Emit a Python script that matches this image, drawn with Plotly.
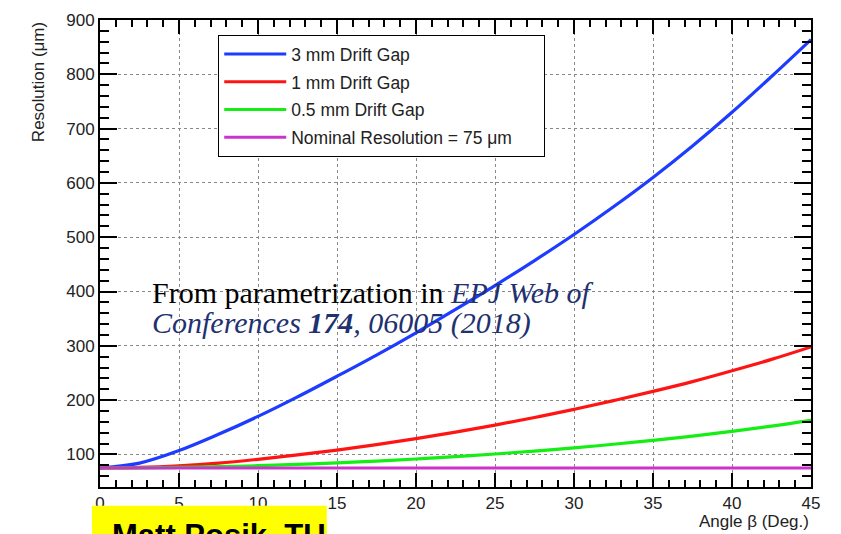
import plotly.graph_objects as go

# ---- data ----
angle_deg = [0, 2.5, 5, 7.5, 10, 12.5, 15, 17.5, 20, 22.5, 25, 27.5, 30,
             32.5, 35, 37.5, 40, 42.5, 45]
res_3mm = [75, 84, 107, 137, 170, 206, 244, 283, 324, 367, 411, 457, 505,
           556, 610, 668, 730, 796, 864]
res_1mm = [75, 76, 79, 84, 91, 99, 108, 118, 129, 141, 154, 168, 183,
           199, 216, 234, 254, 275, 298]
res_05mm = [75, 75.3, 76.1, 77.4, 79.2, 81.5, 84.4, 87.7, 91.6, 95.9, 100.8,
            106.2, 112.1, 118.7, 125.9, 133.8, 142.5, 152.0, 162.7]
nominal_x = [0, 45]
nominal_y = [75, 75]

series_names = ["3 mm Drift Gap", "1 mm Drift Gap", "0.5 mm Drift Gap",
                "Nominal Resolution = 75 \u03bcm\u2003\u2002"]
series_colors = ["#1e3cff", "#ff1414", "#14ee14", "#cc33cc"]

x_ticks = [0, 5, 10, 15, 20, 25, 30, 35, 40, 45]
y_ticks = [100, 200, 300, 400, 500, 600, 700, 800, 900]

fig = go.Figure()
xs = [angle_deg, angle_deg, angle_deg, nominal_x]
ys = [res_3mm, res_1mm, res_05mm, nominal_y]
for i in range(4):
    fig.add_trace(go.Scatter(
        x=xs[i], y=ys[i], mode="lines", name=series_names[i],
        legendgroup="g%d" % i,
        line=dict(color=series_colors[i], width=3.2, shape="spline"),
    ))

axis_font = dict(family="Liberation Sans, Arial, sans-serif", size=17, color="#222")

fig.update_layout(
    width=841, height=534,
    margin=dict(l=100, r=30, t=11, b=47),
    paper_bgcolor="white", plot_bgcolor="white",
    showlegend=True,
    legend=dict(
        x=0.166, y=0.968, xanchor="left", yanchor="top",
        bordercolor="black", borderwidth=1.2, bgcolor="white",
        font=dict(family="Liberation Sans, Arial, sans-serif", size=17.5, color="#222"),
        itemwidth=62, tracegroupgap=2, traceorder="grouped",
    ),
    xaxis=dict(
        range=[0, 45], tickmode="array", tickvals=x_ticks,
        ticks="inside", ticklen=14, tickwidth=2, tickcolor="black",
        showline=True, linewidth=2, linecolor="black", mirror="allticks",
        showgrid=True, gridcolor="#888", griddash="dot", gridwidth=1,
        zeroline=False, tickfont=axis_font,
        minor=dict(dtick=1, tick0=0, ticks="inside", ticklen=7, tickwidth=1.5,
                   tickcolor="black", showgrid=False),
    ),
    yaxis=dict(
        range=[40, 900], tickmode="array", tickvals=y_ticks,
        ticks="inside", ticklen=17, tickwidth=2, tickcolor="black",
        showline=True, linewidth=2, linecolor="black", mirror="allticks",
        showgrid=True, gridcolor="#888", griddash="dot", gridwidth=1,
        zeroline=False, tickfont=axis_font,
        minor=dict(dtick=20, tick0=0, ticks="inside", ticklen=9, tickwidth=1.5,
                   tickcolor="black", showgrid=False),
    ),
)

# axis titles (ROOT style: aligned to the end of the axis)
fig.add_annotation(
    text="Resolution (\u03bcm)", textangle=-90,
    xref="paper", yref="paper", x=-0.087, y=1.0,
    xanchor="center", yanchor="top", showarrow=False,
    font=dict(family="Liberation Sans, Arial, sans-serif", size=17, color="#222"),
)
fig.add_annotation(
    text="Angle \u03b2 (Deg.)",
    xref="paper", yref="paper", x=1.0, y=-0.049,
    xanchor="right", yanchor="top", showarrow=False,
    font=dict(family="Liberation Sans, Arial, sans-serif", size=17, color="#222"),
)

# reference text
navy = "#1f3270"
serif = "Liberation Serif, Times New Roman, serif"
fig.add_annotation(
    text="From parametrization in <span style='color:%s'><i>EPJ Web of</i></span>" % navy,
    xref="paper", yref="paper", x=0.0703, y=0.417,
    xanchor="left", yanchor="middle", showarrow=False,
    font=dict(family=serif, size=30, color="black"),
)
fig.add_annotation(
    text="<span style='color:%s'><i>Conferences <b>174</b>, 06005 (2018)</i></span>" % navy,
    xref="paper", yref="paper", x=0.0703, y=0.352,
    xanchor="left", yanchor="middle", showarrow=False,
    font=dict(family=serif, size=30, color=navy),
)

# yellow name box at the bottom (cut off by the page edge)
fig.add_shape(type="rect", xref="paper", yref="paper",
              x0=-0.0113, x1=0.319, y0=-0.040, y1=-0.25,
              fillcolor="#ffff00", line=dict(width=0), layer="above")
fig.add_annotation(
    text="<b>Matt Posik, TU</b>",
    xref="paper", yref="paper", x=0.014, y=-0.103,
    xanchor="left", yanchor="middle", showarrow=False,
    font=dict(family="Liberation Sans, Arial, sans-serif", size=31, color="black"),
)

fig.write_html("out.html")
